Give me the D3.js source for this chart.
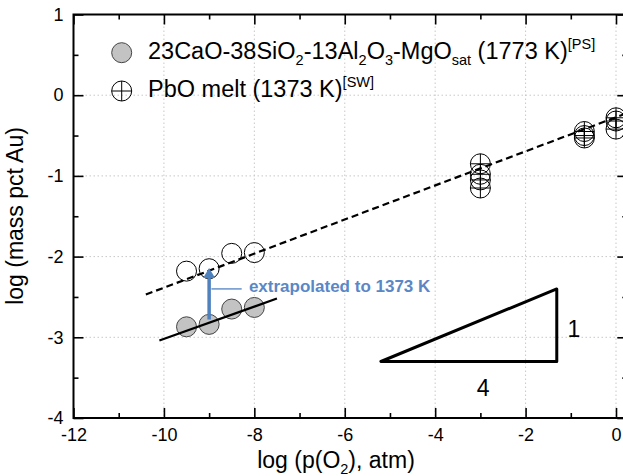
<!DOCTYPE html>
<html><head><meta charset="utf-8">
<script src="https://cdn.jsdelivr.net/npm/d3@7/dist/d3.min.js"></script>
<style>
html,body{margin:0;padding:0;background:#fff;}
svg{display:block;font-family:"Liberation Sans",Arial,Helvetica,sans-serif;}
</style></head>
<body><svg id="chart" width="623" height="476"></svg>
<script>
// ---- data ----
const xTicks = [-12, -10, -8, -6, -4, -2, 0];
const xMinorTicks = [-11, -9, -7, -5, -3, -1];
const yTicks = [1, 0, -1, -2, -3, -4];
const yMinorTicks = [0.5, -0.5, -1.5, -2.5, -3.5];
const slagX = [-9.5, -9.0, -8.5, -8.0];          // 23CaO-38SiO2-13Al2O3-MgOsat, 1773 K
const slagY = [-2.87, -2.84, -2.65, -2.63];
const extrapY = [-2.18, -2.15, -1.96, -1.95];     // extrapolated to 1373 K
const pboX = [-3, -3, -3, -3, -0.7, -0.7, -0.7, 0, 0, 0];   // PbO melt 1373 K
const pboY = [-0.85, -0.98, -1.05, -1.15, -0.45, -0.5, -0.53, -0.28, -0.32, -0.42];
const solidFitX = [-10.1, -7.5];
const solidFitY = [-3.04, -2.52];
const dashFitX = [-10.4, 0.3];
const dashFitY = [-2.47, -0.21];
const triX = [-5.2, -1.31, -1.31];
const triY = [-3.3, -3.3, -2.4];

// ---- layout ----
const svg = d3.select("#chart");
const L = 73.5, T = 14.5, B = 418;
const x = d3.scaleLinear().domain([-12, 0]).range([L, 616]);
const R = x(0.25);
const y = d3.scaleLinear().domain([-4, 1]).range([B, T]);
const FONT = '"Liberation Sans",Arial,Helvetica,sans-serif';
const fmt = d => String(d);

// grid
const g = svg.append("g");
g.selectAll(".gx").data(xTicks.slice(1)).join("line")
  .attr("x1", d => x(d)).attr("x2", d => x(d)).attr("y1", T).attr("y2", B)
  .attr("stroke", "#c8c8c8").attr("stroke-width", 1).attr("stroke-dasharray", "1.5,2.5");
g.selectAll(".gy").data(yTicks.slice(1, -1)).join("line")
  .attr("x1", L).attr("x2", R).attr("y1", d => y(d)).attr("y2", d => y(d))
  .attr("stroke", "#c8c8c8").attr("stroke-width", 1).attr("stroke-dasharray", "1.5,2.5");

// axes (inward ticks)
function styleAxis(sel) {
  sel.select(".domain").remove();
  sel.selectAll("line").attr("stroke", "#000").attr("stroke-width", 1.6);
  sel.selectAll("text").attr("font-family", FONT).attr("font-size", 18).attr("fill", "#000");
}
svg.append("g").attr("transform", `translate(0,${B})`)
  .call(d3.axisBottom(x).tickValues(xTicks).tickSizeInner(-10).tickSizeOuter(0).tickPadding(10).tickFormat(fmt))
  .call(styleAxis);
svg.append("g").attr("transform", `translate(0,${B})`)
  .call(d3.axisBottom(x).tickValues(xMinorTicks).tickSizeInner(-5).tickSizeOuter(0).tickFormat(""))
  .call(styleAxis);
svg.append("g").attr("transform", `translate(0,${T})`)
  .call(d3.axisTop(x).tickValues(xTicks).tickSizeInner(-10).tickSizeOuter(0).tickFormat(""))
  .call(styleAxis);
svg.append("g").attr("transform", `translate(0,${T})`)
  .call(d3.axisTop(x).tickValues(xMinorTicks).tickSizeInner(-5).tickSizeOuter(0).tickFormat(""))
  .call(styleAxis);
svg.append("g").attr("transform", `translate(${L},0)`)
  .call(d3.axisLeft(y).tickValues(yTicks).tickSizeInner(-10).tickSizeOuter(0).tickPadding(10).tickFormat(fmt))
  .call(styleAxis);
svg.append("g").attr("transform", `translate(${L},0)`)
  .call(d3.axisLeft(y).tickValues(yMinorTicks).tickSizeInner(-5).tickSizeOuter(0).tickFormat(""))
  .call(styleAxis);
svg.append("g").attr("transform", `translate(${R},0)`)
  .call(d3.axisRight(y).tickValues(yTicks).tickSizeInner(-10).tickSizeOuter(0).tickFormat(""))
  .call(styleAxis);
svg.append("g").attr("transform", `translate(${R},0)`)
  .call(d3.axisRight(y).tickValues(yMinorTicks).tickSizeInner(-5).tickSizeOuter(0).tickFormat(""))
  .call(styleAxis);

// frame
svg.append("rect").attr("x", L).attr("y", T).attr("width", R - L).attr("height", B - T)
  .attr("fill", "none").attr("stroke", "#000").attr("stroke-width", 2);

// markers
const r = 10;
svg.append("g").selectAll("circle").data(slagX.map((d, i) => [d, slagY[i]])).join("circle")
  .attr("cx", d => x(d[0])).attr("cy", d => y(d[1])).attr("r", r)
  .attr("fill", "#c3c3c3").attr("stroke", "#444").attr("stroke-width", 1);
svg.append("g").selectAll("circle").data(slagX.map((d, i) => [d, extrapY[i]])).join("circle")
  .attr("cx", d => x(d[0])).attr("cy", d => y(d[1])).attr("r", r)
  .attr("fill", "none").attr("stroke", "#000").attr("stroke-width", 1);

function crossCircle(sel, cx, cy) {
  sel.append("circle").attr("cx", cx).attr("cy", cy).attr("r", r)
    .attr("fill", "none").attr("stroke", "#000").attr("stroke-width", 1);
  sel.append("line").attr("x1", cx - r).attr("x2", cx + r).attr("y1", cy).attr("y2", cy)
    .attr("stroke", "#000").attr("stroke-width", 1);
  sel.append("line").attr("x1", cx).attr("x2", cx).attr("y1", cy - r).attr("y2", cy + r)
    .attr("stroke", "#000").attr("stroke-width", 1);
}
const pg = svg.append("g");
pboX.forEach((d, i) => crossCircle(pg, x(d), y(pboY[i])));

// fit lines
const line = d3.line().x(d => x(d[0])).y(d => y(d[1]));
svg.append("path").datum(solidFitX.map((d, i) => [d, solidFitY[i]])).attr("d", line)
  .attr("fill", "none").attr("stroke", "#000").attr("stroke-width", 2.2);
svg.append("path").datum(dashFitX.map((d, i) => [d, dashFitY[i]])).attr("d", line)
  .attr("fill", "none").attr("stroke", "#000").attr("stroke-width", 2.2).attr("stroke-dasharray", "7,4");

// slope triangle
svg.append("path").datum(triX.map((d, i) => [d, triY[i]]))
  .attr("d", d => line(d) + "Z")
  .attr("fill", "none").attr("stroke", "#000").attr("stroke-width", 3).attr("stroke-linejoin", "round");
svg.append("text").attr("x", x(-0.93)).attr("y", y(-2.89)).attr("dy", "0.36em")
  .attr("text-anchor", "middle").attr("font-size", 23).attr("font-family", FONT).text("1");
svg.append("text").attr("x", x(-2.94)).attr("y", y(-3.62)).attr("dy", "0.36em")
  .attr("text-anchor", "middle").attr("font-size", 23).attr("font-family", FONT).text("4");

// annotation arrow
const blue = "#4f81bd";
svg.append("line").attr("x1", x(-8.95)).attr("x2", x(-8.28)).attr("y1", y(-2.40)).attr("y2", y(-2.40))
  .attr("stroke", "#7ea3d3").attr("stroke-width", 1.8);
svg.append("line").attr("x1", x(-9)).attr("x2", x(-9)).attr("y1", y(-2.78)).attr("y2", y(-2.22))
  .attr("stroke", blue).attr("stroke-width", 3.5);
const ax = x(-9), ay = y(-2.14);
svg.append("path").attr("d", `M${ax},${ay} L${ax - 6},${ay + 10} L${ax + 6},${ay + 10} Z`).attr("fill", blue);
svg.append("text").attr("x", x(-8.12)).attr("y", y(-2.44)).attr("font-size", 17).attr("font-weight", "bold")
  .attr("font-family", FONT).attr("fill", "#5a87c6").text("extrapolated to 1373 K");

// legend
const lg = svg.append("g").attr("font-family", FONT).attr("font-size", 23.5);
lg.append("circle").attr("cx", 121.7).attr("cy", 52.7).attr("r", r)
  .attr("fill", "#c3c3c3").attr("stroke", "#444").attr("stroke-width", 1);
crossCircle(lg, 121.7, 91);
function rich(parent, xx, yy, parts) {
  const t = parent.append("text").attr("x", xx).attr("y", yy);
  let shift = 0;
  parts.forEach(p => {
    const target = p.s === "sub" ? 6 : p.s === "sup" ? -10 : 0;
    const ts = t.append("tspan").attr("dy", target - shift).text(p.t);
    if (p.s) ts.attr("font-size", 14.5);
    shift = target;
  });
  return t;
}
rich(lg, 148, 59, [
  {t: "23CaO-38SiO"}, {t: "2", s: "sub"}, {t: "-13Al"}, {t: "2", s: "sub"}, {t: "O"}, {t: "3", s: "sub"},
  {t: "-MgO"}, {t: "sat", s: "sub"}, {t: " (1773 K)"}, {t: "[PS]", s: "sup"}
]);
rich(lg, 148, 97, [{t: "PbO melt (1373 K)"}, {t: "[SW]", s: "sup"}]);

// axis titles
rich(svg.append("g").attr("font-family", FONT).attr("font-size", 23).attr("text-anchor", "middle"),
  336, 468, [{t: "log (p(O"}, {t: "2", s: "sub"}, {t: "), atm)"}]);
svg.append("text").attr("transform", `translate(23,216) rotate(-90)`).attr("text-anchor", "middle")
  .attr("font-family", FONT).attr("font-size", 23).text("log (mass pct Au)");
</script></body></html>
